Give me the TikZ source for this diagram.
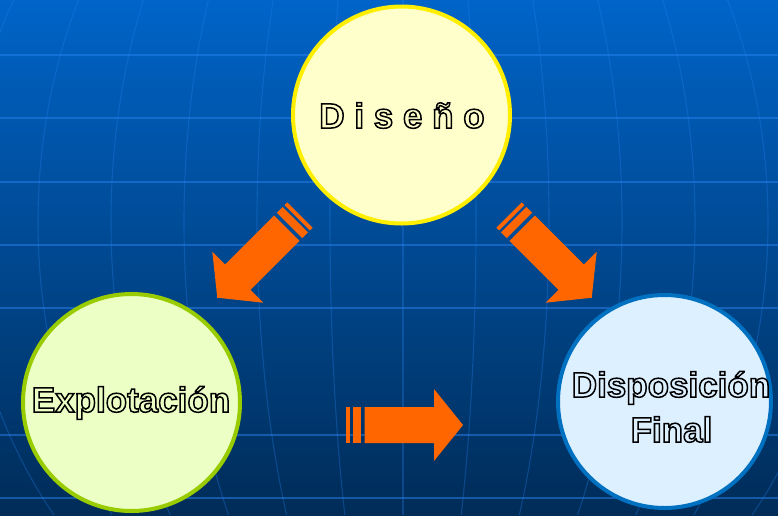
\documentclass[tikz,border=0pt]{standalone}
\usepackage{fontspec}
\setmainfont{Liberation Sans}
\definecolor{bgtop}{RGB}{0,100,200}
\definecolor{bgbot}{RGB}{0,44,88}
\definecolor{gridc}{RGB}{40,130,240}
\definecolor{orng}{RGB}{255,102,0}
\definecolor{yelfill}{RGB}{255,255,204}
\definecolor{yelline}{RGB}{255,238,0}
\definecolor{grnfill}{RGB}{236,255,196}
\definecolor{grnline}{RGB}{153,204,0}
\definecolor{blufill}{RGB}{221,240,255}
\definecolor{bluline}{RGB}{0,112,192}
\newcommand\hollowtext[1]{\special{pdf:literal direct 1 Tr 1.5 w 0 G}#1\special{pdf:literal direct 0 Tr}}
\begin{document}
\begin{tikzpicture}[x=1pt,y=-1pt,
  bubble/.style={circle, inner sep=0pt, line width=4pt},
  lbl/.style={font=\fontsize{35}{42}\selectfont\bfseries, inner sep=0pt, anchor=base},
  gridh/.style={draw=gridc, line width=1.5pt, opacity=0.5},
  gridv/.style={draw=gridc, line width=1.1pt, opacity=0.3},
  stripedarrow/.pic={
    \fill[orng] (0,-18) rectangle (4,18);
    \fill[orng] (6.7,-18) rectangle (14.7,18);
    \fill[orng] (18.7,-18) -- (88,-18) -- (88,-36) -- (117,0) -- (88,36) -- (88,18) -- (18.7,18) -- cycle;
  }]
\useasboundingbox (0,0) rectangle (778,515);
\shade[top color=bgtop, bottom color=bgbot] (0,0) rectangle (778,515);
% globe grid
\foreach \yy in {55,118,182,245,308,435,498} \draw[gridh] (0,\yy) -- (778,\yy);
\draw[gridv] (403,0) -- (403,515);
\foreach \k in {1,...,6} {
  \draw[gridv] plot[domain=0:515, samples=40, variable=\t, smooth] ({403+73*\k*sqrt(1-((\t-222)/485)^2)},\t);
  \draw[gridv] plot[domain=0:515, samples=40, variable=\t, smooth] ({403-73*\k*sqrt(1-((\t-222)/485)^2)},\t);
}
% circles
\node[bubble, fill=yelfill, draw=yelline, minimum size=217pt] (dis) at (401.5,115) {};
\node[bubble, fill=grnfill, draw=grnline, minimum size=217pt] (exp) at (131.5,402.5) {};
\node[bubble, fill=blufill, draw=bluline, minimum size=213pt] (fin) at (664.5,401.5) {};
% labels
\node[lbl] (dist) at (402,128) {\hollowtext{D i s e ñ o}};
\node[lbl] (expt) at (131,412) {\hollowtext{Explotación}};
\node[lbl] (fint1) at (671,397) {\hollowtext{Disposición}};
\node[lbl] (fint2) at (671.5,442) {\hollowtext{Final}};
% arrows
\pic[rotate=225] (a1) at (300,215) {stripedarrow};
\pic[rotate=-45] (a2) at (509,215) {stripedarrow};
\pic (a3) at (346,425) {stripedarrow};
\end{tikzpicture}
\end{document}
